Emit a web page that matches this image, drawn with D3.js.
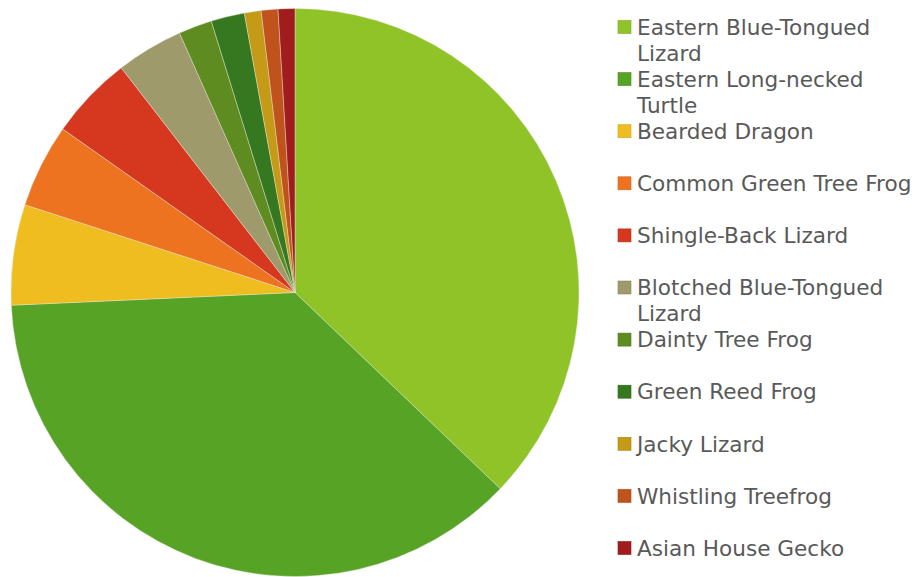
<!DOCTYPE html>
<html>
<head>
<meta charset="utf-8">
<script src="https://cdn.jsdelivr.net/npm/d3@7"></script>
<style>
  body { margin: 0; background: #fff; }
  svg { display: block; }
</style>
</head>
<body>
<div id="chart"></div>
<script>
/**
 * DATA
 * */
const species = [
  "Eastern Blue-Tongued Lizard", "Eastern Long-necked Turtle", "Bearded Dragon",
  "Common Green Tree Frog", "Shingle-Back Lizard", "Blotched Blue-Tongued Lizard",
  "Dainty Tree Frog", "Green Reed Frog", "Jacky Lizard", "Whistling Treefrog",
  "Asian House Gecko"
];
const counts = [39, 39, 6, 5, 5, 4, 2, 2, 1, 1, 1];
const colors = [
  "#8fc328", "#57a325", "#efbd1f", "#ee7321", "#d5371f", "#9e9a6c",
  "#5f8c20", "#367820", "#c49a16", "#c0531b", "#a11c1c"
];

/**
 * CONSTANTS
 * */
const width = 916, height = 577;
const cx = 295, cy = 292.5, radius = 284;
const legendX = 618, legendTop = 27, itemStep = 52.1, lineStep = 26,
  wrapWidth = 285, fontSize = 21.6;

const data = species.map((name, i) => ({ name, value: counts[i], color: colors[i] }));

const svg = d3.select("#chart")
  .append("svg")
  .attr("width", width)
  .attr("height", height);

// pie, clockwise from 12 o'clock, in data order
const pie = d3.pie().value(d => d.value).sort(null);
const arc = d3.arc().innerRadius(0).outerRadius(radius);

svg.append("g")
  .attr("transform", `translate(${cx},${cy})`)
  .selectAll("path")
  .data(pie(data))
  .join("path")
    .attr("d", arc)
    .attr("fill", d => d.data.color)
    .attr("stroke", "#e8e8d8")
    .attr("stroke-width", 0.6)
    .attr("stroke-opacity", 0.7);

// legend
const legend = svg.append("g")
  .attr("font-family", "'DejaVu Sans', Verdana, sans-serif")
  .attr("font-size", fontSize)
  .attr("fill", "#595959");

const items = legend.selectAll("g")
  .data(data)
  .join("g")
    .attr("transform", (d, i) => `translate(${legendX},${legendTop + i * itemStep})`);

items.append("rect")
  .attr("x", 0)
  .attr("y", -6.5)
  .attr("width", 13)
  .attr("height", 13)
  .attr("fill", d => d.color)
  .attr("stroke", d => d3.color(d.color).darker(0.4))
  .attr("stroke-width", 0.6);

items.each(function(d) {
  const g = d3.select(this);
  const text = g.append("text");
  // simple word wrap
  const words = d.name.split(" ");
  let line = [];
  let lineNo = 0;
  const addLine = n => text.append("tspan")
    .attr("x", 19)
    .attr("y", n * lineStep)
    .attr("dy", "0.36em");
  let tspan = addLine(0);
  words.forEach(w => {
    line.push(w);
    tspan.text(line.join(" "));
    if (tspan.node().getComputedTextLength() > wrapWidth && line.length > 1) {
      line.pop();
      tspan.text(line.join(" "));
      line = [w];
      lineNo++;
      tspan = addLine(lineNo).text(w);
    }
  });
});
</script>
</body>
</html>
